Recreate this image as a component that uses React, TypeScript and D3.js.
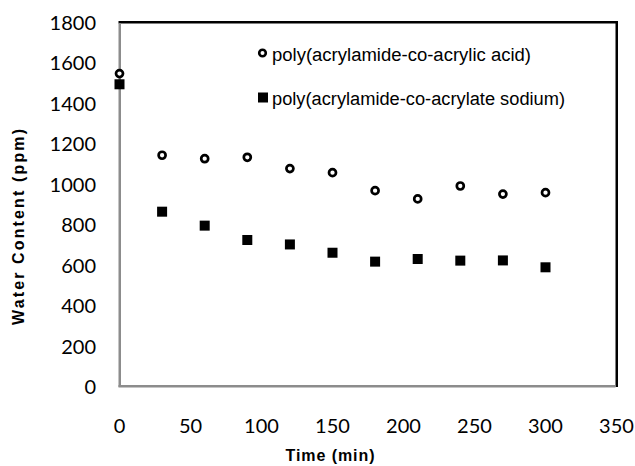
import React from "react";
import * as d3 from "d3";

const times = [0, 30, 60, 90, 120, 150, 180, 210, 240, 270, 300];
const acidValues = [1545, 1141, 1124, 1131, 1075, 1055, 966, 925, 989, 949, 956];
const sodiumValues = [1492, 862, 793, 722, 700, 659, 615, 628, 620, 621, 587];
const xTicks = [0, 50, 100, 150, 200, 250, 300, 350];
const yTicks = [0, 200, 400, 600, 800, 1000, 1200, 1400, 1600, 1800];
const seriesNames = ["poly(acrylamide-co-acrylic acid)", "poly(acrylamide-co-acrylate sodium)"];

const W = 635, H = 466;
const left = 119.5, right = 616.5, top = 22, bottom = 386;

export default function App() {
  const x = d3.scaleLinear().domain([0, 350]).range([left, right]);
  const y = d3.scaleLinear().domain([0, 1800]).range([bottom, top]);
  const tickFont = "Lato, 'Open Sans', sans-serif";
  const labFont = "'Liberation Sans', Arial, sans-serif";
  return (
    <svg width={W} height={H} style={{ position: "absolute", left: 0, top: 0, background: "#fff" }}>
      <rect x={0} y={0} width={W} height={H} fill="#fff" />
      {/* plot border top/right */}
      <rect x={left - 1} y={top - 1} width={right - left + 2} height={2.5} fill="#000" />
      <rect x={right - 1} y={top - 1} width={2.5} height={bottom - top + 2} fill="#000" />
      {/* axes */}
      <rect x={left - 1} y={top + 1} width={2.5} height={bottom - top} fill="#8c8c8c" />
      <rect x={left - 1} y={bottom - 1} width={right - left} height={2.5} fill="#8c8c8c" />
      {yTicks.map((t) => (
        <text key={"y" + t} x={96} y={y(t)} textAnchor="end" dominantBaseline="central" fontFamily={tickFont} fontSize={20} fill="#000">
          {t}
        </text>
      ))}
      {xTicks.map((t) => (
        <text key={"x" + t} x={x(t)} y={425} textAnchor="middle" dominantBaseline="central" fontFamily={tickFont} fontSize={20} fill="#000">
          {t}
        </text>
      ))}
      <text x={330} y={461} textAnchor="middle" fontFamily={labFont} fontWeight="bold" fontSize={16} textLength={89} lengthAdjust="spacing">
        Time (min)
      </text>
      <text transform={`translate(24,227) rotate(-90)`} textAnchor="middle" fontFamily={labFont} fontWeight="bold" fontSize={16} textLength={196} lengthAdjust="spacing">
        Water Content (ppm)
      </text>
      {times.map((t, i) => (
        <circle key={"c" + i} cx={x(t)} cy={y(acidValues[i])} r={3.5} fill="#fff" stroke="#000" strokeWidth={2.7} />
      ))}
      {times.map((t, i) => (
        <rect key={"s" + i} x={x(t) - 5} y={y(sodiumValues[i]) - 5} width={10} height={10} fill="#000" />
      ))}
      {/* legend */}
      <circle cx={262.5} cy={53} r={3.3} fill="#fff" stroke="#000" strokeWidth={2.6} />
      <text x={272} y={61} fontFamily={labFont} fontSize={18} textLength={259} lengthAdjust="spacingAndGlyphs">
        {seriesNames[0]}
      </text>
      <rect x={258} y={92.5} width={10} height={10} fill="#000" />
      <text x={272} y={105} fontFamily={labFont} fontSize={18} textLength={293} lengthAdjust="spacingAndGlyphs">
        {seriesNames[1]}
      </text>
    </svg>
  );
}
